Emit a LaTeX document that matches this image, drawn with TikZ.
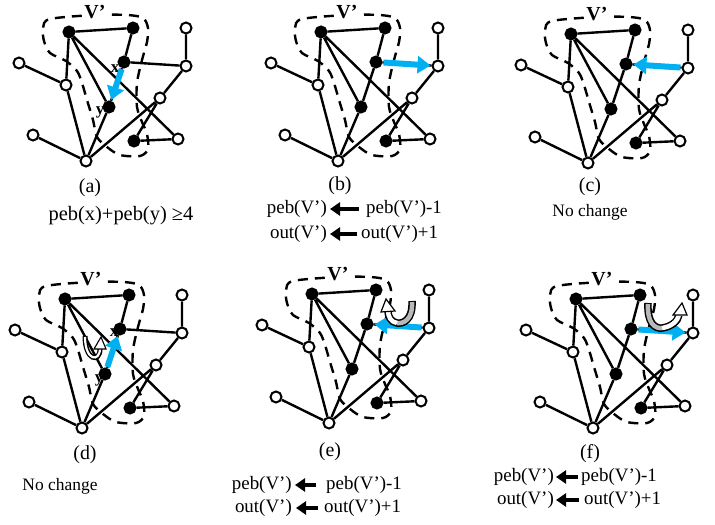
\documentclass[tikz,border=0pt]{standalone}
\usepackage{fontspec}
\setmainfont{Liberation Serif}
\usetikzlibrary{arrows.meta, backgrounds}
\definecolor{PebBlue}{RGB}{0,176,240}
\definecolor{PebGray}{RGB}{185,185,185}

\newcommand{\pebgraph}{%
  \node[bv] (A) at (69,32) {};
  \node[bv] (B) at (133,28) {};
  \node[bv] (xv) at (124,62) {};
  \node[bv] (yv) at (109,107) {};
  \node[bv] (J) at (134,141) {};
  \node[wv] (C) at (186,28) {};
  \node[wv] (D) at (186,66) {};
  \node[wv] (E) at (19,63) {};
  \node[wv] (F) at (66,85) {};
  \node[wv] (G) at (160,98) {};
  \node[wv] (H) at (33,135) {};
  \node[wv] (I) at (86,161) {};
  \node[wv] (K) at (178,139) {};
  \begin{scope}[on background layer]
    \draw[link] (A)--(B) (B)--(xv) (xv)--(D) (D)--(C) (xv)--(yv)
                (A)--(F) (E)--(F) (F)--(I) (A)--(yv) (A)--(K)
                (yv)--(I) (H)--(I) (I)--(G) (D)--(G) (G)--(J) (J)--(K);
    \draw[vset] plot[smooth cycle] coordinates {
      (50,19) (95,15) (127,15) (143,18) (148,28) (147,42) (142,60)
      (137,83) (137,107) (142,122) (147,134) (148,149) (140,156)
      (120,155) (107,147) (97,137) (93,120) (87,100) (82,83)
      (77,71) (66,61) (50,53) (44,41) (43,28)};
  \end{scope}
  \node[vlab] (vl) at (95,12) {V’};
}

\begin{document}
\begin{tikzpicture}[x=1bp, y=-1bp,
    wv/.style={circle, draw, fill=white, line width=2bp, minimum size=11bp, inner sep=0pt},
    bv/.style={circle, draw, fill=black, line width=2bp, minimum size=11bp, inner sep=0pt},
    link/.style={line width=2.4bp},
    vset/.style={line width=2.4bp, dash pattern=on 10bp off 7bp},
    vlab/.style={font=\fontsize{20}{22}\selectfont\bfseries, fill=white, inner sep=1bp},
    xylab/.style={font=\fontsize{17}{19}\selectfont\bfseries, inner sep=0pt},
    captxt/.style={font=\fontsize{20}{22}\selectfont, inner sep=1bp},
    txt/.style={font=\fontsize{19}{21}\selectfont, inner sep=1bp},
    nctxt/.style={font=\fontsize{17.5}{20}\selectfont, inner sep=1bp},
    bluearr/.style={-{Triangle[length=13bp, width=17bp]}, line width=6bp, PebBlue,
                    shorten <=1bp, shorten >=1bp},
    txtarr/.style={-{Triangle[length=10bp, width=13bp]}, line width=3.5bp},
    uout/.style={line width=7.5bp},
    uin/.style={line width=4.5bp}
  ]
  \useasboundingbox (0,0) rectangle (715,525);

  % (a)
  \begin{scope}[name prefix=a-]
    \pebgraph
    \node[xylab] (xl) at (115,69) {x};
    \node[xylab] (yl) at (100,112) {y};
    \draw[bluearr] (xv) -- (yv);
    \node[captxt] (lab) at (90,188) {(a)};
    \node[txt, font=\fontsize{20.5}{22}\selectfont] (cond) at (121,216) {peb(x)+peb(y) ≥4};
  \end{scope}

  % (b)
  \begin{scope}[shift={(252,0)}, name prefix=b-]
    \pebgraph
    \draw[bluearr] (xv) -- (D);
    \node[captxt] (lab) at (88,186) {(b)};
    \node[txt, anchor=east] (old1) at (76,209) {peb(V’)};
    \node[txt, anchor=west] (new1) at (113,209) {peb(V’)-1};
    \node[txt, anchor=east] (old2) at (76,234) {out(V’)};
    \node[txt, anchor=west] (new2) at (108,234) {out(V’)+1};
    \draw[txtarr, shorten <=6bp, shorten >=2bp] (new1.west) -- (old1.east);
    \draw[txtarr, shorten <=3bp, shorten >=2bp] (new2.west) -- (old2.east);
  \end{scope}

  % (c)
  \begin{scope}[shift={(502,2)}, name prefix=c-]
    \pebgraph
    \draw[bluearr] (D) -- (xv);
    \node[captxt] (lab) at (88,185) {(c)};
    \node[nctxt] (nc) at (88,210) {No change};
  \end{scope}

  % (d)
  \begin{scope}[shift={(-4,267)}, name prefix=d-]
    \pebgraph
    \node[xylab] (xl) at (118,66) {x};
    \node[xylab] (yl) at (103,113) {y};
    \draw[bluearr] (yv) -- (xv);
    \draw[line width=5bp] (89,69) .. controls (89,94) and (104,96) .. (104,82);
    \draw[line width=2.2bp, white] (89,70) .. controls (89,94) and (104,96) .. (104,81);
    \filldraw[fill=white, line width=1.1bp] (105,70) -- (110,82) -- (98,82) -- cycle;
    \node[captxt] (lab) at (89,188) {(d)};
    \node[nctxt] (nc) at (64,219) {No change};
  \end{scope}

  % (e)
  \begin{scope}[shift={(243,262)}, name prefix=e-]
    \pebgraph
    \draw[bluearr] (D) -- (xv);
    \draw[uout] (169,39) .. controls (170,58) and (160,62) .. (154,61)
                .. controls (148,60) and (145,55) .. (145,49);
    \draw[uin, PebGray] (169,40) .. controls (170,58) and (160,62) .. (154,61);
    \draw[uin, white] (154,61) .. controls (148,60) and (145,55) .. (145,48);
    \filldraw[fill=white, line width=1.2bp] (143,37) -- (152,49) -- (138,50) -- cycle;
    \node[captxt] (lab) at (87,190) {(e)};
    \node[txt, anchor=east] (old1) at (50,223) {peb(V’)};
    \node[txt, anchor=west] (new1) at (82,223) {peb(V’)-1};
    \node[txt, anchor=east] (old2) at (50,246) {out(V’)};
    \node[txt, anchor=west] (new2) at (80,246) {out(V’)+1};
    \draw[txtarr, shorten <=9bp, shorten >=2bp] (new1.west) -- (old1.east);
    \draw[txtarr, shorten <=5bp, shorten >=3bp] (new2.west) -- (old2.east);
  \end{scope}

  % (f)
  \begin{scope}[shift={(507,267)}, name prefix=f-]
    \pebgraph
    \draw[bluearr] (xv) -- (D);
    \draw[uout] (141,36) .. controls (140,56) and (148,62) .. (155,61)
                .. controls (163,60) and (171,55) .. (172,48);
    \draw[uin, PebGray] (141,37) .. controls (140,56) and (148,62) .. (155,61);
    \draw[uin, white] (155,61) .. controls (163,60) and (171,55) .. (172,47);
    \filldraw[fill=white, line width=1.2bp] (175,36) -- (180,48) -- (166,48) -- cycle;
    \node[captxt] (lab) at (83,187) {(f)};
    \node[txt, anchor=east] (old1) at (48,210) {peb(V’)};
    \node[txt, anchor=west] (new1) at (73,210) {peb(V’)-1};
    \node[txt, anchor=east] (old2) at (48,233) {out(V’)};
    \node[txt, anchor=west] (new2) at (76,233) {out(V’)+1};
    \draw[txtarr, shorten <=2bp, shorten >=1bp] (new1.west) -- (old1.east);
    \draw[txtarr, shorten <=4bp, shorten >=1bp] (new2.west) -- (old2.east);
  \end{scope}
\end{tikzpicture}
\end{document}
